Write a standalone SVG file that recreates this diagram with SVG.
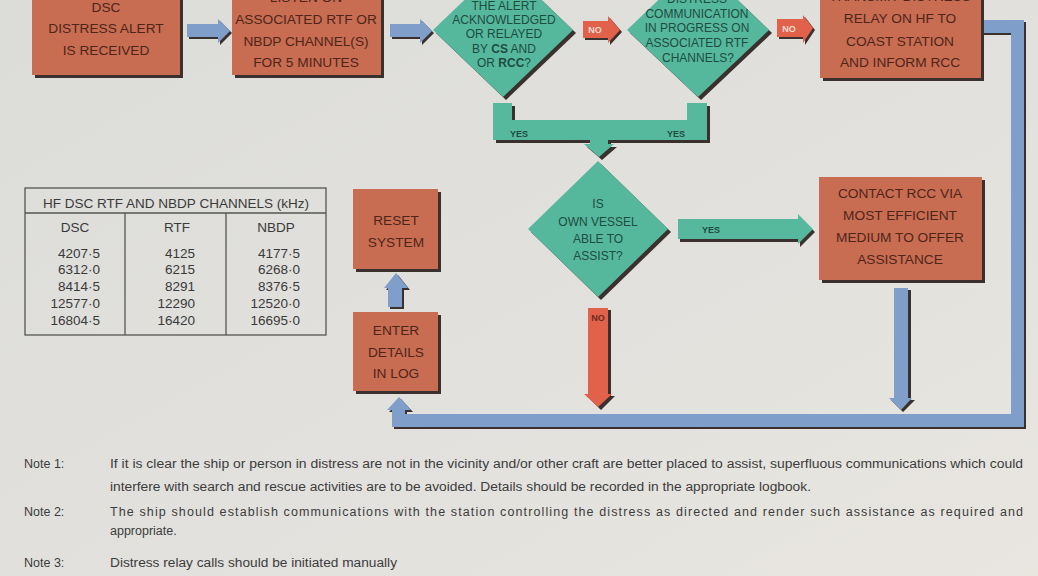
<svg xmlns="http://www.w3.org/2000/svg" width="1038" height="576" viewBox="0 0 1038 576">
<defs>
<linearGradient id="bg" x1="0" y1="0" x2="1" y2="1">
<stop offset="0" stop-color="#dcdcd9"/>
<stop offset="0.6" stop-color="#e2e1dd"/>
<stop offset="1" stop-color="#e9e6e0"/>
</linearGradient>
<style>
.box{fill:#c86c52}
.sh{fill:#3a302e}
.dia{fill:#55b89c}
.blue{fill:#7f9ec9}
.red{fill:#e1614b}
.teal{fill:#56b99d}
.bt{font-family:"Liberation Sans",Arial,sans-serif;font-size:13.7px;fill:#4e2619;text-anchor:middle}
.dt{font-family:"Liberation Sans",Arial,sans-serif;font-size:12px;fill:#1f4c41;text-anchor:middle}
.lbl{font-family:"Liberation Sans",Arial,sans-serif;font-size:9px;font-weight:bold;text-anchor:middle}
.tt{font-family:"Liberation Sans",Arial,sans-serif;font-size:13.5px;fill:#3a3a3a}
.nt{font-family:"Liberation Sans",Arial,sans-serif;font-size:12.5px;fill:#3c3c3c}
.tl{fill:none;stroke:#555;stroke-width:1.3}
</style>
</defs>
<rect width="1038" height="576" fill="url(#bg)"/>

<g id="connectors">
<!-- blue arrow 1 -->
<polygon class="sh" points="189,26 220,26 220,21 232,33 220,45 220,39 189,39"/>
<polygon class="blue" points="187,24 218,24 218,19 230,31 218,43 218,37 187,37"/>
<!-- blue arrow 2 -->
<polygon class="sh" points="392,26 422,26 422,21 434,33 422,45 422,39 392,39"/>
<polygon class="blue" points="390,24 420,24 420,19 432,31 420,43 420,37 390,37"/>
<!-- NO arrow 1 -->
<polygon class="sh" points="585,23 610,23 610,18 622,32 610,45 610,40 585,40"/>
<polygon class="red" points="583,21 608,21 608,16 620,30 608,43 608,38 583,38"/>
<text class="lbl" x="595" y="33" fill="#f6dcd4">NO</text>
<!-- NO arrow 2 -->
<polygon class="sh" points="779,21 805,21 805,17 815,30 805,45 805,39 779,39"/>
<polygon class="red" points="777,19 803,19 803,15 813,28 803,43 803,37 777,37"/>
<text class="lbl" x="789" y="32" fill="#f6dcd4">NO</text>
<!-- YES merge connector -->
<polygon class="sh" points="496,106 515,106 515,123 690,123 690,106 710,106 710,143 611,143 611,147 617,147 602,160 587,147 593,147 593,143 496,143"/>
<polygon class="teal" points="493,103 512,103 512,120 687,120 687,103 707,103 707,140 608,140 608,144 614,144 599,157 584,144 590,144 590,140 493,140"/>
<text class="lbl" x="519" y="137" fill="#1f4c41">YES</text>
<text class="lbl" x="676" y="137" fill="#1f4c41">YES</text>
<!-- YES arrow right -->
<polygon class="sh" points="680,222 800,222 800,217 815,232 800,247 800,242 680,242"/>
<polygon class="teal" points="678,219 798,219 798,214 813,229 798,244 798,239 678,239"/>
<text class="lbl" x="711" y="233" fill="#1f4c41">YES</text>
<!-- NO arrow down -->
<polygon class="sh" points="591,310 611,310 611,396 615,396 601,410 587,396 591,396"/>
<polygon class="red" points="588,308 608,308 608,394 612,394 598,407 584,394 588,394"/>
<text class="lbl" x="598" y="321" fill="#6e2a1f">NO</text>
<!-- blue down arrow from CONTACT -->
<polygon class="sh" points="896,290 911,290 911,400 915,400 903,412 891,400 896,400"/>
<polygon class="blue" points="894,288 908,288 908,398 912,398 901,410 889,398 894,398"/>
<!-- blue up arrow ENTER -> RESET -->
<polygon class="sh" points="390,290 386,290 398,275 410,290 404,290 404,309 390,309"/>
<polygon class="blue" points="388,288 384,288 396,273 408,288 402,288 402,307 388,307"/>
<!-- return pipe -->
<polygon class="sh" points="984,22 1026,22 1026,429 394,429 394,412 389,412 401,399 413,412 407,412 407,416 1013,416 1013,35 984,35"/>
<polygon class="blue" points="984,20 1024,20 1024,427 392,427 392,410 387,410 399,397 411,410 405,410 405,414 1011,414 1011,33 984,33"/>
</g>

<g id="n-dsc-alert">
<rect class="sh" x="35" y="-7" width="148" height="85"/>
<rect class="box" x="32" y="-10" width="148" height="85"/>
<text class="bt" x="106" y="12">DSC</text>
<text class="bt" x="106" y="33">DISTRESS ALERT</text>
<text class="bt" x="106" y="55">IS RECEIVED</text>
</g>

<g id="n-listen">
<rect class="sh" x="235" y="-7" width="149" height="85"/>
<rect class="box" x="232" y="-10" width="149" height="85"/>
<text class="bt" x="306" y="2">LISTEN ON</text>
<text class="bt" x="306" y="24">ASSOCIATED RTF OR</text>
<text class="bt" x="306" y="46">NBDP CHANNEL(S)</text>
<text class="bt" x="306" y="67">FOR 5 MINUTES</text>
</g>

<g id="n-acknowledged">
<polygon class="sh" points="506,-34 576,33 506,100 436,33"/>
<polygon class="dia" points="503,-37 573,30 503,97 433,30"/>
<text class="dt" x="504" y="10">THE ALERT</text>
<text class="dt" x="504" y="24">ACKNOWLEDGED</text>
<text class="dt" x="504" y="38">OR RELAYED</text>
<text class="dt" x="504" y="53">BY <tspan font-weight="bold">CS</tspan> AND</text>
<text class="dt" x="504" y="67">OR <tspan font-weight="bold">RCC</tspan>?</text>
</g>

<g id="n-comm-progress">
<polygon class="sh" points="701,-35 772,33 701,100 630,33"/>
<polygon class="dia" points="698,-38 769,30 698,97 627,30"/>
<text class="dt" x="697" y="3">DISTRESS</text>
<text class="dt" x="697" y="18">COMMUNICATION</text>
<text class="dt" x="697" y="32">IN PROGRESS ON</text>
<text class="dt" x="697" y="47">ASSOCIATED RTF</text>
<text class="dt" x="698" y="62">CHANNELS?</text>
</g>

<g id="n-relay">
<rect class="sh" x="823" y="-7" width="161" height="88"/>
<rect class="box" x="820" y="-10" width="161" height="88"/>
<text class="bt" x="900" y="1">TRANSMIT DISTRESS</text>
<text class="bt" x="900" y="23">RELAY ON HF TO</text>
<text class="bt" x="900" y="46">COAST STATION</text>
<text class="bt" x="900" y="67">AND INFORM RCC</text>
</g>

<g id="n-table">
<rect x="25" y="188" width="301" height="147" fill="#e4e4e1" class="tl"/>
<line class="tl" x1="25" y1="213" x2="326" y2="213"/>
<line class="tl" x1="125" y1="213" x2="125" y2="335"/>
<line class="tl" x1="226" y1="213" x2="226" y2="335"/>
<text class="tt" x="176" y="208" text-anchor="middle" font-size="14">HF DSC RTF AND NBDP CHANNELS (kHz)</text>
<text class="tt" x="75" y="232" text-anchor="middle" font-size="14">DSC</text>
<text class="tt" x="177" y="232" text-anchor="middle" font-size="14">RTF</text>
<text class="tt" x="276" y="232" text-anchor="middle" font-size="14">NBDP</text>
<g text-anchor="end">
<text class="tt" x="100" y="258">4207·5</text>
<text class="tt" x="100" y="274">6312·0</text>
<text class="tt" x="100" y="291">8414·5</text>
<text class="tt" x="100" y="308">12577·0</text>
<text class="tt" x="100" y="325">16804·5</text>
<text class="tt" x="195" y="258">4125</text>
<text class="tt" x="195" y="274">6215</text>
<text class="tt" x="195" y="291">8291</text>
<text class="tt" x="195" y="308">12290</text>
<text class="tt" x="195" y="325">16420</text>
<text class="tt" x="300" y="258">4177·5</text>
<text class="tt" x="300" y="274">6268·0</text>
<text class="tt" x="300" y="291">8376·5</text>
<text class="tt" x="300" y="308">12520·0</text>
<text class="tt" x="300" y="325">16695·0</text>
</g>
</g>

<g id="n-reset">
<rect class="sh" x="356" y="192" width="85" height="80"/>
<rect class="box" x="353" y="189" width="85" height="80"/>
<text class="bt" x="396" y="225">RESET</text>
<text class="bt" x="396" y="247">SYSTEM</text>
</g>

<g id="n-enter">
<rect class="sh" x="356" y="315" width="85" height="79"/>
<rect class="box" x="353" y="312" width="85" height="79"/>
<text class="bt" x="396" y="335">ENTER</text>
<text class="bt" x="396" y="357">DETAILS</text>
<text class="bt" x="396" y="378">IN LOG</text>
</g>

<g id="n-able">
<polygon class="sh" points="601,164 671,232 601,300 531,232"/>
<polygon class="dia" points="598,161 668,229 598,297 528,229"/>
<text class="dt" x="598" y="208" font-size="12.5">IS</text>
<text class="dt" x="598" y="226" font-size="12.5">OWN VESSEL</text>
<text class="dt" x="598" y="243" font-size="12.5">ABLE TO</text>
<text class="dt" x="598" y="260" font-size="12.5">ASSIST?</text>
</g>

<g id="n-contact">
<rect class="sh" x="822" y="180" width="163" height="103"/>
<rect class="box" x="819" y="177" width="163" height="103"/>
<text class="bt" x="900" y="198" font-size="14">CONTACT RCC VIA</text>
<text class="bt" x="900" y="220" font-size="14">MOST EFFICIENT</text>
<text class="bt" x="900" y="242" font-size="14">MEDIUM TO OFFER</text>
<text class="bt" x="900" y="264" font-size="14">ASSISTANCE</text>
</g>

<g id="notes">
<text class="nt" x="24" y="468">Note 1:</text>
<text class="nt" x="110" y="468" textLength="913" lengthAdjust="spacingAndGlyphs">If it is clear the ship or person in distress are not in the vicinity and/or other craft are better placed to assist, superfluous communications which could</text>
<text class="nt" x="110" y="491" textLength="701" lengthAdjust="spacingAndGlyphs">interfere with search and rescue activities are to be avoided. Details should be recorded in the appropriate logbook.</text>
<text class="nt" x="24" y="516">Note 2:</text>
<text class="nt" x="110" y="516" textLength="913" lengthAdjust="spacing">The ship should establish communications with the station controlling the distress as directed and render such assistance as required and</text>
<text class="nt" x="110" y="535">appropriate.</text>
<text class="nt" x="24" y="567">Note 3:</text>
<text class="nt" x="110" y="567" textLength="287" lengthAdjust="spacingAndGlyphs">Distress relay calls should be initiated manually</text>
</g>
</svg>
